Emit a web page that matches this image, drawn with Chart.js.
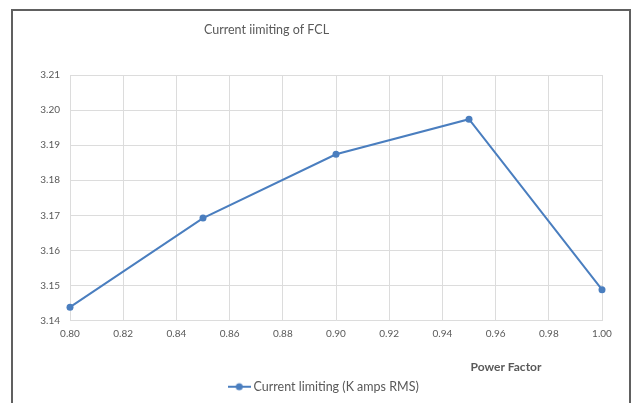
<!DOCTYPE html>
<html>
<head>
<meta charset="utf-8">
<script src="https://cdn.jsdelivr.net/npm/chart.js@4"></script>
<style>
	body { margin: 0; background: #ffffff; }
	#wrap { position: relative; width: 633px; height: 403px; overflow: hidden; }
	#frame { position: absolute; left: 11px; top: 9px; width: 616px; height: 420px; border: 2px solid #606060; pointer-events: none; }
	canvas { position: absolute; left: 0; top: 0; }
</style>
</head>
<body>
<div id="wrap">
	<canvas id="fclChart" width="633" height="403"></canvas>
	<div id="frame"></div>
</div>
<script>
// data
let powerFactor = [0.80, 0.85, 0.90, 0.95, 1.00];
let currentLimiting = [3.1438, 3.1692, 3.1874, 3.1974, 3.1488];
let seriesName = 'Current limiting (K amps RMS)';
let chartTitle = 'Current iimiting of FCL';
let xTitle = 'Power Factor';

let lineColor = '#4a7ebf';
let textColor = '#595959';
let gridColor = '#dcdcdc';
let fontName = 'Lato';

document.addEventListener('DOMContentLoaded', function() {
	let canvas = document.getElementById('fclChart');

	// legend symbol: short line with a dot, like the office chart
	let legendMark = document.createElement('canvas');
	legendMark.width = 23;
	legendMark.height = 10;
	let lctx = legendMark.getContext('2d');
	lctx.strokeStyle = lineColor;
	lctx.lineWidth = 2;
	lctx.beginPath();
	lctx.moveTo(0, 5);
	lctx.lineTo(23, 5);
	lctx.stroke();
	lctx.fillStyle = lineColor;
	lctx.beginPath();
	lctx.arc(11.5, 5, 3.5, 0, Math.PI * 2);
	lctx.fill();

	let points = powerFactor.map(function(pf, i) {
		return { x: pf, y: currentLimiting[i] };
	});

	// the legend is a bit right of centre in the original
	let legendShift = {
		id: 'legendShift',
		afterLayout: function(chart) {
			chart.legend.left += 24;
			chart.legend.right += 24;
		}
	};

	// title and x axis title sit off-centre in the original, so draw them here
	let extraTexts = {
		id: 'extraTexts',
		afterDraw: function(chart) {
			let area = chart.chartArea;
			let ctx = chart.ctx;
			ctx.save();
			ctx.fillStyle = textColor;
			ctx.textAlign = 'center';
			ctx.textBaseline = 'middle';
			ctx.font = '12.5px ' + fontName;
			ctx.fillText(chartTitle, 266.5, 30);
			ctx.font = 'bold 12px ' + fontName;
			ctx.fillText(xTitle, area.left + (area.right - area.left) * 0.8195, area.bottom + 47);
			ctx.restore();
		}
	};

	new Chart(canvas, {
		type: 'line',
		data: {
			datasets: [{
				label: seriesName,
				data: points,
				borderColor: lineColor,
				backgroundColor: lineColor,
				borderWidth: 2,
				pointRadius: 3.5,
				pointBackgroundColor: lineColor,
				pointBorderWidth: 0,
				tension: 0,
				clip: false
			}]
		},
		options: {
			responsive: false,
			animation: false,
			layout: {
				padding: { left: 0, right: 31, top: 75, bottom: 0 }
			},
			plugins: {
				title: { display: false },
				legend: {
					position: 'bottom',
					labels: {
						usePointStyle: true,
						pointStyle: legendMark,
						pointStyleWidth: 16,
						color: textColor,
						font: { family: fontName, size: 12.5 },
						padding: 0
					}
				},
				tooltip: { enabled: false }
			},
			scales: {
				x: {
					type: 'linear',
					min: 0.8,
					max: 1.0,
					ticks: {
						stepSize: 0.02,
						color: textColor,
						font: { family: fontName, size: 10 },
						padding: 7,
						maxRotation: 0,
						callback: function(v) { return v.toFixed(2); }
					},
					grid: { color: gridColor, drawTicks: false },
					border: { color: gridColor },
					afterFit: function(scale) { scale.height = 60; }
				},
				y: {
					min: 3.14,
					max: 3.21,
					ticks: {
						stepSize: 0.01,
						color: textColor,
						font: { family: fontName, size: 10 },
						padding: 10,
						callback: function(v) { return v.toFixed(2); }
					},
					grid: { color: gridColor, drawTicks: false },
					border: { color: gridColor },
					afterFit: function(scale) { scale.width = 70; }
				}
			}
		},
		plugins: [legendShift, extraTexts]
	});
});
</script>
</body>
</html>
